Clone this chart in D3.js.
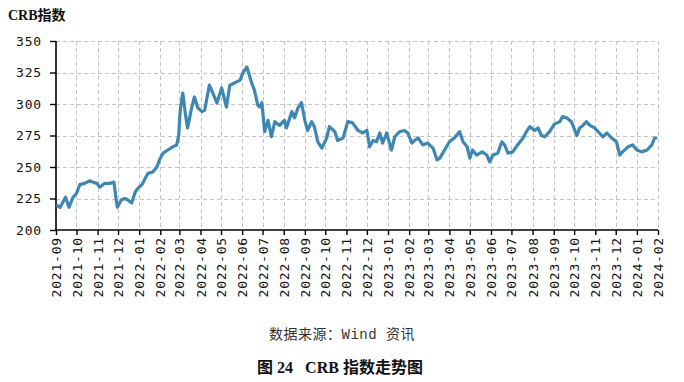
<!DOCTYPE html>
<html>
<head>
<meta charset="utf-8">
<script src="https://cdn.jsdelivr.net/npm/d3@7"></script>
<style>
  body { margin: 0; background: #fff; }
  svg { display: block; }
</style>
</head>
<body>
<div id="chart"></div>
<script>
// CRB index
const dates = [
  "2021-09-01","2021-09-07","2021-09-11","2021-09-15","2021-09-20","2021-09-26",
  "2021-10-01","2021-10-06","2021-10-13","2021-10-20","2021-10-25","2021-10-31",
  "2021-11-04","2021-11-11","2021-11-19","2021-11-25","2021-11-28","2021-11-30",
  "2021-12-06","2021-12-11","2021-12-15","2021-12-21","2021-12-26","2021-12-30",
  "2022-01-05","2022-01-09","2022-01-14","2022-01-21","2022-01-27","2022-01-31",
  "2022-02-05","2022-02-12","2022-02-19","2022-02-25","2022-02-28",
  "2022-03-02","2022-03-04","2022-03-06","2022-03-10","2022-03-13","2022-03-19","2022-03-23","2022-03-28",
  "2022-04-03","2022-04-07","2022-04-14","2022-04-19","2022-04-25",
  "2022-05-02","2022-05-09","2022-05-14","2022-05-21","2022-05-29",
  "2022-06-02","2022-06-08","2022-06-15","2022-06-19","2022-06-24","2022-06-27","2022-06-30",
  "2022-07-04","2022-07-09","2022-07-14","2022-07-19","2022-07-26",
  "2022-08-02","2022-08-05","2022-08-13","2022-08-17","2022-08-22","2022-08-27",
  "2022-09-01","2022-09-05","2022-09-11","2022-09-15","2022-09-20","2022-09-26",
  "2022-10-03","2022-10-07","2022-10-15","2022-10-19","2022-10-27",
  "2022-11-03","2022-11-10","2022-11-18","2022-11-25",
  "2022-12-01","2022-12-05","2022-12-10","2022-12-15","2022-12-20","2022-12-24","2022-12-30",
  "2023-01-06","2023-01-11","2023-01-18","2023-01-25","2023-01-30",
  "2023-02-05","2023-02-09","2023-02-14","2023-02-21","2023-02-28",
  "2023-03-08","2023-03-14","2023-03-18","2023-03-25",
  "2023-04-01","2023-04-09","2023-04-16","2023-04-21","2023-04-27",
  "2023-05-01","2023-05-05","2023-05-11","2023-05-19","2023-05-26","2023-05-30",
  "2023-06-04","2023-06-11","2023-06-17","2023-06-21","2023-06-26",
  "2023-07-03","2023-07-10","2023-07-18","2023-07-23","2023-07-28",
  "2023-08-04","2023-08-09","2023-08-14","2023-08-19","2023-08-26",
  "2023-09-02","2023-09-10","2023-09-14","2023-09-20","2023-09-27",
  "2023-10-05","2023-10-09","2023-10-14","2023-10-19","2023-10-24","2023-10-31",
  "2023-11-07","2023-11-12","2023-11-18","2023-11-25",
  "2023-12-02","2023-12-07","2023-12-11","2023-12-19","2023-12-26",
  "2024-01-01","2024-01-08","2024-01-16","2024-01-23","2024-01-27","2024-01-31"
];
const values = [
  220, 218, 222, 226, 218, 226,
  229, 236, 237, 239, 238, 237,
  234, 237, 237, 238, 225, 218,
  224, 225, 224, 221.5, 230, 233,
  236, 240, 245, 246, 250, 256,
  261, 263.5, 266, 267.5, 275,
  294, 301.6, 308.7, 291, 281, 297, 305.6, 297,
  294, 295, 315, 308.7, 300.8,
  312.7, 297.6, 315, 316.7, 319,
  324.6, 329.4, 316.7, 311, 299, 297.6, 301,
  278, 287, 274, 286, 283,
  287, 281, 294, 289, 297, 301,
  287, 279, 286, 282, 270, 265,
  273, 282, 278, 271, 273,
  286, 285, 279, 277,
  279, 266, 271, 270, 277, 269, 277,
  263.5, 274, 278, 279, 277,
  269, 271, 273, 267.5, 269,
  265, 255.6, 257, 263.5,
  270, 273.5, 278, 270, 266,
  257, 263.5, 259.5, 262, 259.5, 254,
  259.5, 261, 270, 267.5, 261,
  262, 267.5, 273, 278, 282,
  279, 281, 275, 274, 278,
  284, 286, 290, 289, 286,
  275, 281, 283, 286, 283, 281,
  277, 274, 277, 273,
  270, 259.5, 262, 266, 267.5,
  263.5, 262, 263.5, 267.5, 273, 273
];
const yTicks = [200, 225, 250, 275, 300, 325, 350];

const width = 684, height = 382;
const margin = { top: 41, right: 26, bottom: 152, left: 56 };
const parse = d3.timeParse("%Y-%m-%d");
const data = dates.map((d, i) => ({ date: parse(d), value: values[i] }));

const svg = d3.select("#chart").append("svg")
  .attr("width", width)
  .attr("height", height);

const x = d3.scaleTime()
  .domain([parse("2021-09-01"), parse("2024-02-01")])
  .range([margin.left, width - margin.right]);
const y = d3.scaleLinear()
  .domain([200, 350])
  .range([height - margin.bottom, margin.top]);

const months = d3.timeMonth.range(parse("2021-09-01"), parse("2024-02-02"));
const fmt = d3.timeFormat("%Y-%m");

// grid
const grid = svg.append("g")
  .attr("stroke", "#c4c4c4")
  .attr("stroke-width", 1)
  .attr("stroke-dasharray", "4,3");
grid.selectAll(".gy")
  .data(yTicks.filter((t) => t > 200))
  .join("line")
  .attr("x1", margin.left)
  .attr("x2", width - margin.right)
  .attr("y1", (d) => Math.round(y(d)) + 0.5)
  .attr("y2", (d) => Math.round(y(d)) + 0.5);
grid.selectAll(".gx")
  .data(months.slice(1))
  .join("line")
  .attr("x1", (d) => Math.round(x(d)) + 0.5)
  .attr("x2", (d) => Math.round(x(d)) + 0.5)
  .attr("y1", margin.top)
  .attr("y2", height - margin.bottom);

// axes
const yAxis = svg.append("g")
  .attr("transform", `translate(${margin.left},0)`)
  .call(d3.axisLeft(y).tickValues(yTicks).tickSize(6).tickPadding(8));
const xAxis = svg.append("g")
  .attr("transform", `translate(0,${height - margin.bottom})`)
  .call(d3.axisBottom(x).tickValues(months).tickFormat(fmt).tickSize(5).tickPadding(2));

[yAxis, xAxis].forEach((ax) => {
  ax.select(".domain").attr("stroke", "#000").attr("stroke-width", 1.6);
  ax.selectAll(".tick line").attr("stroke", "#000").attr("stroke-width", 1.4);
  ax.selectAll("text")
    .attr("fill", "#111")
    .style("font-family", "'DejaVu Sans Mono', monospace")
    .style("font-size", "13px")
    .style("letter-spacing", "0.8px");
});
yAxis.select(".domain").attr("d", `M0,${margin.top}V${height - margin.bottom}`);
xAxis.select(".domain").attr("d", `M${margin.left},0H${width - margin.right}`);

xAxis.selectAll("text")
  .attr("text-anchor", "end")
  .attr("transform", "rotate(-90)")
  .attr("x", -7)
  .attr("y", 0)
  .attr("dy", "0.35em");

// line
const line = d3.line()
  .x((d) => x(d.date))
  .y((d) => y(d.value));
svg.append("path")
  .datum(data)
  .attr("fill", "none")
  .attr("stroke", "#3d87b2")
  .attr("stroke-width", 3.2)
  .attr("stroke-linejoin", "round")
  .attr("d", line);

// titles
svg.append("text")
  .attr("x", 8)
  .attr("y", 20)
  .style("font-family", "'Liberation Serif', 'Noto Sans CJK SC', serif")
  .style("font-weight", "bold")
  .style("font-size", "14px")
  .attr("fill", "#111")
  .text("CRB指数");

svg.append("text")
  .attr("x", 342)
  .attr("y", 339)
  .attr("text-anchor", "middle")
  .style("font-family", "'Liberation Mono', 'Noto Sans CJK SC', monospace")
  .style("font-size", "14px")
  .style("letter-spacing", "0.5px")
  .style("white-space", "pre")
  .attr("fill", "#333")
  .text("数据来源：Wind 资讯");

svg.append("text")
  .attr("x", 340)
  .attr("y", 373)
  .attr("text-anchor", "middle")
  .style("font-family", "'Liberation Serif', 'Noto Sans CJK SC', serif")
  .style("font-weight", "bold")
  .style("font-size", "16px")
  .style("white-space", "pre")
  .attr("fill", "#111")
  .text("图 24   CRB 指数走势图");
</script>
</body>
</html>
